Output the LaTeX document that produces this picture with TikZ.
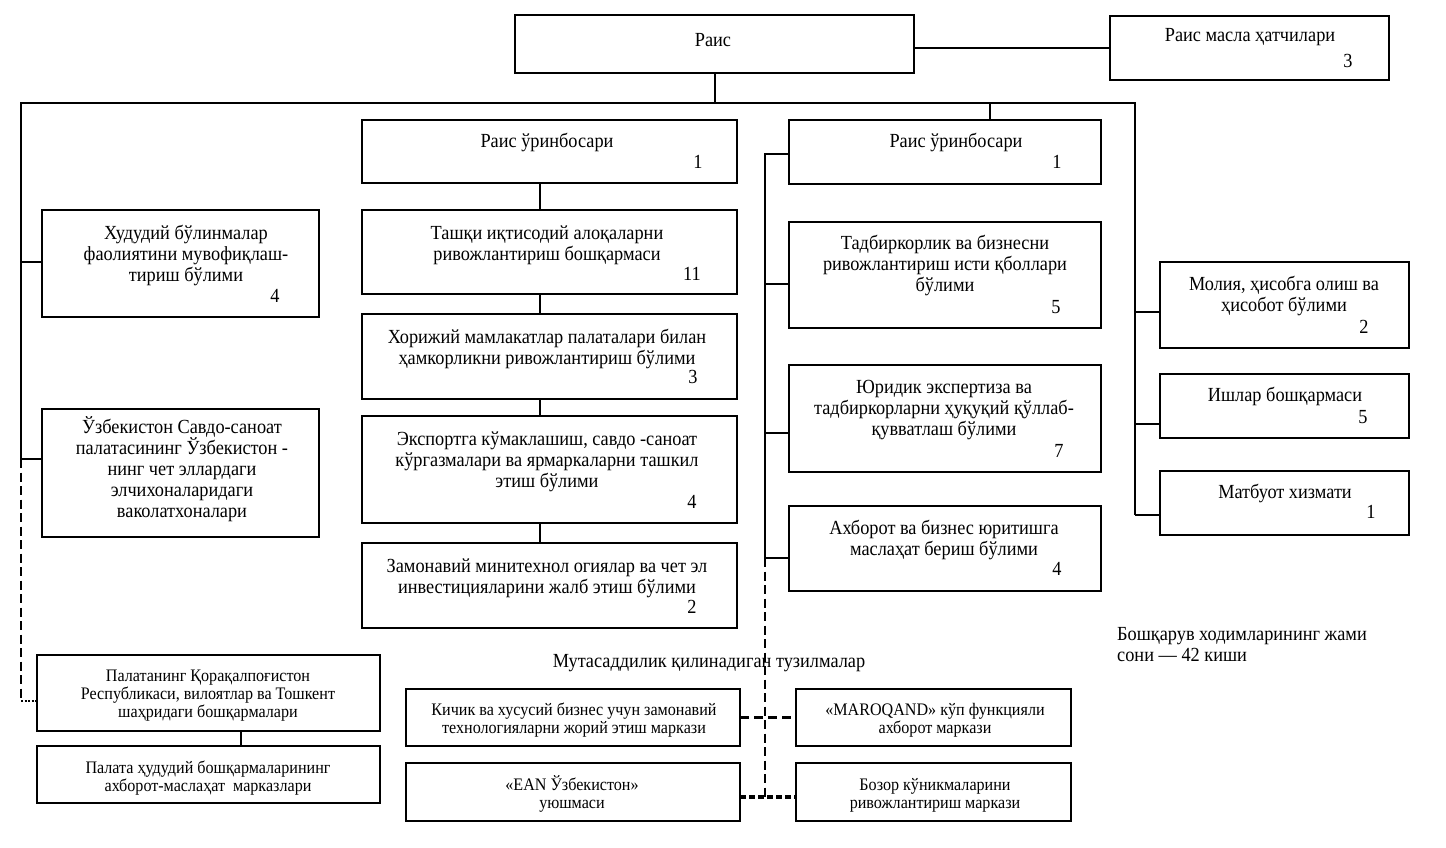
\documentclass[tikz,border=0pt]{standalone}
\usepackage{fontspec}
\setmainfont[FakeStretch=0.915]{Liberation Serif}
\newcommand\mybox[5]{\node[box, minimum width={#4-#2}, minimum height={#5-#3}] (#1) at (#2,#3) {};}
\begin{document}
\begin{tikzpicture}[x=1pt,y=-1pt,
  box/.style={draw, line width=2pt, inner sep=0pt, outer sep=0pt, anchor=north west},
  t/.style={anchor=base, align=center, inner sep=0pt, font=\fontsize{20}{21}\selectfont},
  ts/.style={anchor=base, align=center, inner sep=0pt, font=\fontsize{17.6}{18}\selectfont},
  num/.style={anchor=base, inner sep=0pt, font=\fontsize{20}{21}\selectfont},
  ln/.style={line width=2pt},
  dsh/.style={line width=2.6pt, dash pattern=on 9pt off 4.5pt},
  dshh/.style={line width=2.4pt, dash pattern=on 9pt off 5pt},
  dotb/.style={line width=3.2pt, dash pattern=on 6pt off 3pt},
  dotl/.style={line width=1.8pt, dash pattern=on 2pt off 1.5pt}]
\useasboundingbox (0,0) rectangle (1446,848);

% boxes
\mybox{rais}{515}{15}{914}{73}
\mybox{rmas}{1110}{16}{1389}{80}
\mybox{vpa}{362}{120}{737}{183}
\mybox{vpb}{789}{120}{1101}{184}
\mybox{tash}{362}{210}{737}{294}
\mybox{hor}{362}{314}{737}{399}
\mybox{exp}{362}{416}{737}{523}
\mybox{zam}{362}{543}{737}{628}
\mybox{tad}{789}{222}{1101}{328}
\mybox{yur}{789}{365}{1101}{472}
\mybox{axb}{789}{506}{1101}{591}
\mybox{mol}{1160}{262}{1409}{348}
\mybox{ish}{1160}{374}{1409}{438}
\mybox{mat}{1160}{471}{1409}{535}
\mybox{hud}{42}{210}{319}{317}
\mybox{uzb}{42}{409}{319}{537}
\mybox{pal}{37}{655}{380}{731}
\mybox{palb}{37}{746}{380}{803}
\mybox{kich}{406}{689}{740}{746}
\mybox{ean}{406}{763}{740}{821}
\mybox{maro}{796}{689}{1071}{746}
\mybox{boz}{796}{763}{1071}{821}

% texts (base = baseline of the last line)
\node[t] (rais-t) at (713,47) {Раис};
\node[t] (rmas-t) at (1250,42) {Раис масла ҳатчилари};
\node[num] (rmas-n) at (1348,68) {3};
\node[t] (vpa-t) at (547,148) {Раис ўринбосари};
\node[num] (vpa-n) at (698,168) {1};
\node[t] (vpb-t) at (956,148) {Раис ўринбосари};
\node[num] (vpb-n) at (1057,168) {1};
\node[t] (tash-t) at (547,260) {Ташқи иқтисодий алоқаларни\\ривожлантириш бошқармаси};
\node[num] (tash-n) at (692,280) {11};
\node[t] (hor-t) at (547,364) {Хорижий мамлакатлар палаталари билан\\ҳамкорликни ривожлантириш бўлими};
\node[num] (hor-n) at (693,383) {3};
\node[t] (exp-t) at (547,487) {Экспортга кўмаклашиш, савдо -саноат\\кўргазмалари ва ярмаркаларни ташкил\\этиш бўлими};
\node[num] (exp-n) at (692,508) {4};
\node[t] (zam-t) at (547,593) {Замонавий минитехнол огиялар ва чет эл\\инвестицияларини жалб этиш бўлими};
\node[num] (zam-n) at (692,613) {2};
\node[t] (tad-t) at (945,291) {Тадбиркорлик ва бизнесни\\ривожлантириш исти қболлари\\бўлими};
\node[num] (tad-n) at (1056,313) {5};
\node[t] (yur-t) at (944,435) {Юридик экспертиза ва\\тадбиркорларни ҳуқуқий қўллаб-\\қувватлаш бўлими};
\node[num] (yur-n) at (1059,457) {7};
\node[t] (axb-t) at (944,555) {Ахборот ва бизнес юритишга\\маслаҳат бериш бўлими};
\node[num] (axb-n) at (1057,575) {4};
\node[t] (mol-t) at (1284,311) {Молия, ҳисобга олиш ва\\ҳисобот бўлими};
\node[num] (mol-n) at (1364,333) {2};
\node[t] (ish-t) at (1285,401) {Ишлар бошқармаси};
\node[num] (ish-n) at (1363,423) {5};
\node[t] (mat-t) at (1285,498) {Матбуот хизмати};
\node[num] (mat-n) at (1371,518) {1};
\node[t] (hud-t) at (186,281) {Худудий бўлинмалар\\фаолиятини мувофиқлаш-\\тириш бўлими};
\node[num] (hud-n) at (275,302) {4};
\node[t] (uzb-t) at (182,517) {Ўзбекистон Савдо-саноат\\палатасининг Ўзбекистон -\\нинг чет эллардаги\\элчихоналаридаги\\ваколатхоналари};
\node[t, anchor=base west, align=left] (bosh-t) at (1117,661) {Бошқарув ходимларининг жами\\сони — 42 киши};
\node[t] (mut-t) at (709,667) {Мутасаддилик қилинадиган тузилмалар};
\node[ts] (pal-t) at (208,717) {Палатанинг Қорақалпоғистон\\Республикаси, вилоятлар ва Тошкент\\шаҳридаги бошқармалари};
\node[ts] (palb-t) at (208,791) {Палата ҳудудий бошқармаларининг\\ахборот-маслаҳат~ марказлари};
\node[ts] (kich-t) at (574,733) {Кичик ва хусусий бизнес учун замонавий\\технологияларни жорий этиш маркази};
\node[ts] (ean-t) at (572,808) {«EAN Ўзбекистон»\\уюшмаси};
\node[ts] (maro-t) at (935,733) {«MAROQAND» кўп функцияли\\ахборот маркази};
\node[ts] (boz-t) at (935,808) {Бозор кўникмаларини\\ривожлантириш маркази};

% coordinates
\coordinate (busL) at (21,103);
\coordinate (busR) at (1135,103);
\coordinate (rc) at (914,48);
\coordinate (dv) at (990,103);
\coordinate (mx) at (540,0);
\coordinate (L1) at (21,262);
\coordinate (L2) at (21,459);
\coordinate (L3) at (21,701);
\coordinate (V0) at (765,154);
\coordinate (V1) at (765,284);
\coordinate (V2) at (765,433);
\coordinate (V3) at (765,558);
\coordinate (V4) at (765,797);
\coordinate (R1) at (1135,312);
\coordinate (R2) at (1135,424);
\coordinate (R3) at (1135,515);
\coordinate (px) at (241,0);

% connectors
\draw[ln] (rc) -- (rc -| rmas.west);
\draw[ln] (rais.south) -- (rais.south |- busL);
\draw[ln] (L2) -- (busL) -- (busR) -- (R3);
\draw[ln] (dv) -- (dv |- vpb.north);
\draw[ln] (L1) -- (L1 -| hud.west);
\draw[ln] (L2) -- (L2 -| uzb.west);
\draw[dsh] (L2) -- (L3);
\draw[dotl] (L3) -- (L3 -| pal.west);
\draw[ln] (vpa.south -| mx) -- (tash.north -| mx);
\draw[ln] (tash.south -| mx) -- (hor.north -| mx);
\draw[ln] (hor.south -| mx) -- (exp.north -| mx);
\draw[ln] (exp.south -| mx) -- (zam.north -| mx);
\draw[ln] (V0 -| vpb.west) -- (V0) -- (V3);
\draw[ln] (V1) -- (V1 -| tad.west);
\draw[ln] (V2) -- (V2 -| yur.west);
\draw[ln] (V3) -- (V3 -| axb.west);
\draw[dsh] (V3) -- (V4);
\draw[ln] (R1) -- (R1 -| mol.west);
\draw[ln] (R2) -- (R2 -| ish.west);
\draw[ln] (R3) -- (R3 -| mat.west);
\draw[ln] (pal.south -| px) -- (palb.north -| px);
\draw[dshh] (kich.east) -- (maro.west);
\draw[dotb] (V4 -| ean.east) -- (V4 -| boz.west);
\end{tikzpicture}
\end{document}
